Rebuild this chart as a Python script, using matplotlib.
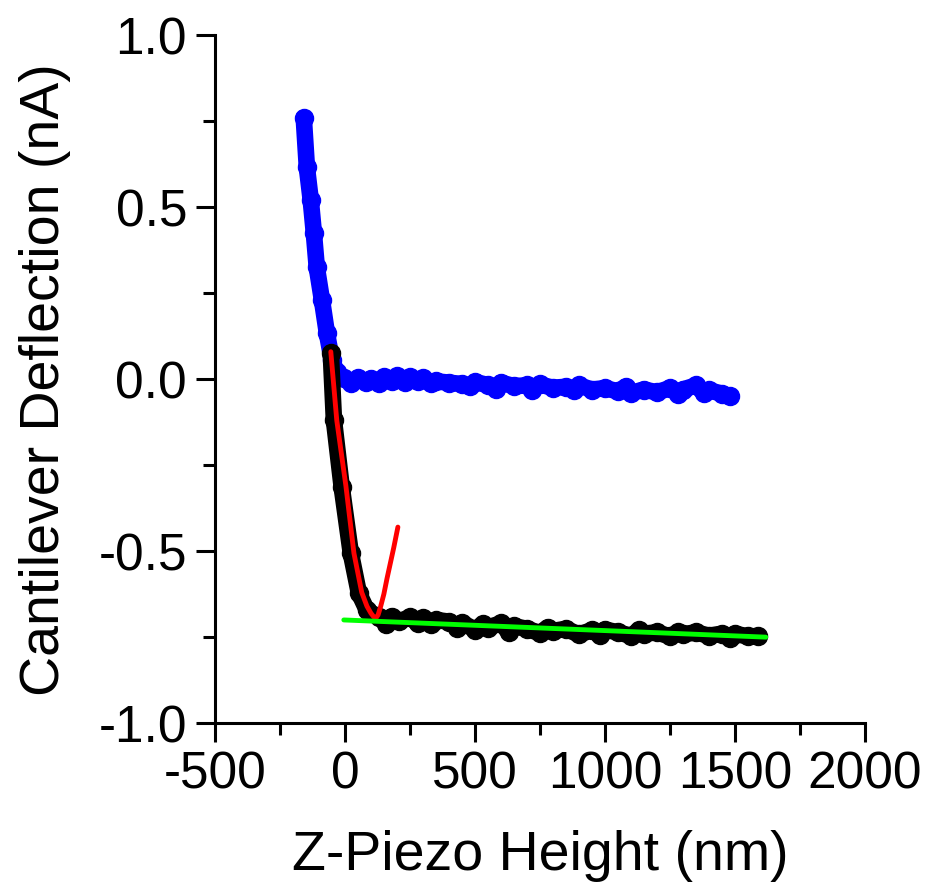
import numpy as np
import matplotlib.pyplot as plt
from matplotlib.ticker import MultipleLocator

plt.rcParams['font.family'] = ['Liberation Sans', 'DejaVu Sans']

# approach curve (blue)
blue_x = [-158, -146, -131, -119, -108, -88, -69, -50, -30, -4,
          25, 50, 80, 100, 130, 150, 180, 200, 230, 250, 280, 300, 330,
          350, 400, 450, 480, 500, 550, 580, 600, 650, 700, 720, 750, 800,
          850, 880, 900, 950, 1000, 1050, 1080, 1100, 1150, 1200, 1250,
          1280, 1300, 1350, 1380, 1400, 1450, 1480]
blue_y = [0.76, 0.616, 0.52, 0.424, 0.326, 0.23, 0.134, 0.055, 0.02, 0.005,
          -0.01, 0.004, -0.008, 0.002, -0.01, 0.006, -0.004, 0.008, -0.008,
          0.006, -0.006, 0.003, -0.012, -0.006, -0.01, -0.014, -0.02, -0.008,
          -0.017, -0.028, -0.01, -0.02, -0.018, -0.03, -0.015, -0.025, -0.022,
          -0.032, -0.018, -0.03, -0.026, -0.035, -0.022, -0.04, -0.03, -0.038,
          -0.026, -0.042, -0.03, -0.018, -0.04, -0.032, -0.042, -0.05]

# retract curve (black)
black_x = [-54, -42, -12, 23, 54, 85, 131, 160, 180, 210, 250, 280, 300,
           330, 350, 400, 430, 450, 500, 530, 550, 600, 630, 650, 700, 750,
           780, 800, 850, 900, 950, 980, 1000, 1050, 1100, 1130, 1150, 1200,
           1250, 1280, 1300, 1350, 1400, 1450, 1480, 1500, 1550, 1590]
black_y = [0.076, -0.119, -0.314, -0.506, -0.622, -0.672, -0.692, -0.712,
           -0.690, -0.704, -0.692, -0.710, -0.695, -0.712, -0.700, -0.705,
           -0.722, -0.708, -0.728, -0.712, -0.722, -0.710, -0.735, -0.718,
           -0.726, -0.738, -0.722, -0.732, -0.726, -0.742, -0.730, -0.744,
           -0.728, -0.736, -0.746, -0.730, -0.740, -0.736, -0.748, -0.736,
           -0.742, -0.736, -0.746, -0.740, -0.752, -0.740, -0.748, -0.747]

# fit curve (red)
fit_x = [-54, -31, 4, 35, 65, 85, 100, 110, 119, 128, 138, 150, 162, 175,
         188, 204]
fit_y = [0.08, -0.12, -0.31, -0.506, -0.62, -0.66, -0.68, -0.69, -0.695,
         -0.685, -0.66, -0.625, -0.58, -0.535, -0.49, -0.43]

# baseline (green)
base_x = [-4, 1619]
base_y = [-0.70, -0.75]

fig = plt.figure(figsize=(9.3, 8.84), dpi=100)
ax = fig.add_axes([0.231, 0.182, 0.699, 0.778])

ax.plot(blue_x, blue_y, '-o', color='#0000ff', lw=12, ms=13,
        solid_capstyle='round', solid_joinstyle='round', zorder=2)
ax.plot(black_x, black_y, '-o', color='black', lw=12, ms=13,
        solid_capstyle='round', solid_joinstyle='round', zorder=3)
ax.plot(fit_x, fit_y, color='#ff0000', lw=3.5, solid_capstyle='round',
        solid_joinstyle='round', zorder=4)
ax.plot(base_x, base_y, color='#00ff00', lw=3.5, solid_capstyle='round', zorder=5)

ax.set_xlim(-500, 2000)
ax.set_ylim(-1.0, 1.0)
ax.xaxis.set_major_locator(MultipleLocator(500))
ax.xaxis.set_minor_locator(MultipleLocator(250))
ax.yaxis.set_major_locator(MultipleLocator(0.5))
ax.yaxis.set_minor_locator(MultipleLocator(0.25))
ax.xaxis.set_major_formatter(plt.FuncFormatter(lambda v, p: f'{v:.0f}'))
ax.yaxis.set_major_formatter(plt.FuncFormatter(lambda v, p: f'{v:.1f}'))

for s in ['top', 'right']:
    ax.spines[s].set_visible(False)
for s in ['left', 'bottom']:
    ax.spines[s].set_linewidth(2.2)

ax.tick_params(which='major', direction='out', length=14, width=2.2,
               labelsize=37, pad=6)
ax.tick_params(which='minor', direction='out', length=8.5, width=2.2)

ax.set_xlabel('Z-Piezo Height (nm)', fontsize=40, labelpad=22)
ax.set_ylabel('Cantilever Deflection (nA)', fontsize=40, labelpad=20)

fig.savefig('out.png', dpi=100)
